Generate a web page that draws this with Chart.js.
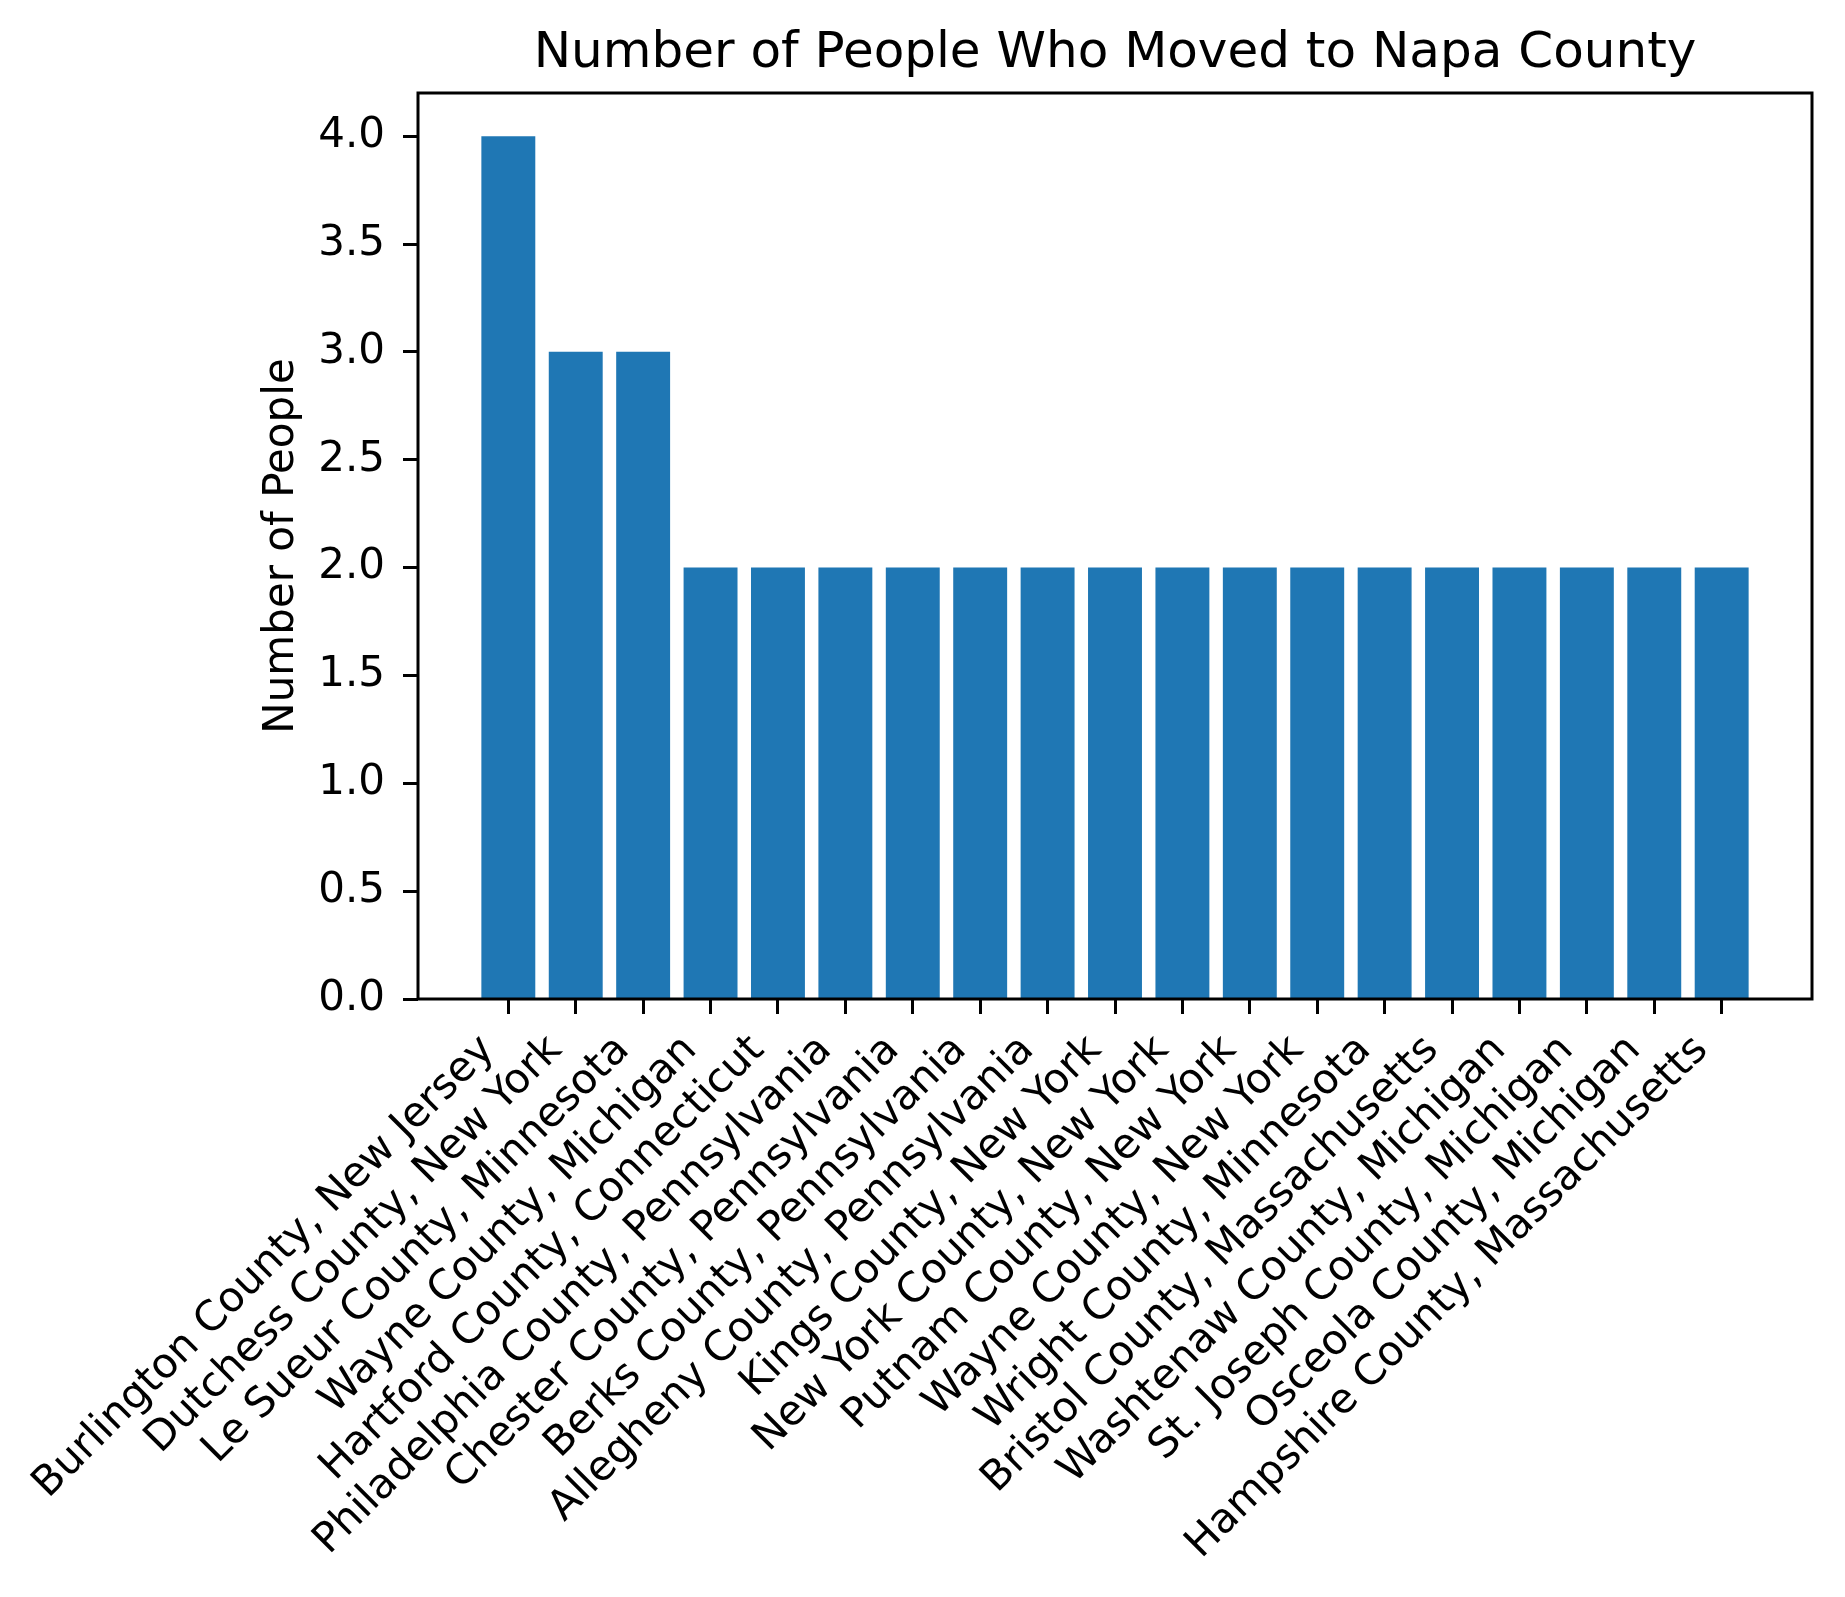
<!DOCTYPE html>
<html>
<head>
<meta charset="utf-8">
<script src="https://cdn.jsdelivr.net/npm/chart.js@4/dist/chart.umd.min.js"></script>
<style>
  html, body { margin: 0; padding: 0; background: #fff; }
  #wrap { width: 1845px; height: 1597px; }
</style>
</head>
<body>
<div id="wrap"><canvas id="c" width="1845" height="1597"></canvas></div>
<script>
const categories = [
  "Burlington County, New Jersey",
  "Dutchess County, New York",
  "Le Sueur County, Minnesota",
  "Wayne County, Michigan",
  "Hartford County, Connecticut",
  "Philadelphia County, Pennsylvania",
  "Chester County, Pennsylvania",
  "Berks County, Pennsylvania",
  "Allegheny County, Pennsylvania",
  "Kings County, New York",
  "New York County, New York",
  "Putnam County, New York",
  "Wayne County, New York",
  "Wright County, Minnesota",
  "Bristol County, Massachusetts",
  "Washtenaw County, Michigan",
  "St. Joseph County, Michigan",
  "Osceola County, Michigan",
  "Hampshire County, Massachusetts"
];
const people = [4, 3, 3, 2, 2, 2, 2, 2, 2, 2, 2, 2, 2, 2, 2, 2, 2, 2, 2];
const yTicks = [0, 0.5, 1.0, 1.5, 2.0, 2.5, 3.0, 3.5, 4.0];

const titleText = "Number of People Who Moved to Napa County";
const yTitle = "Number of People";

const FONT = "'DejaVu Sans', sans-serif";
const n = categories.length;
const barW = 0.8;
const xMin = -barW / 2 - 0.05 * (n - 1 + barW);
const xMax = (n - 1) + barW / 2 + 0.05 * (n - 1 + barW);
const yMax = Math.max(...people) * 1.05;

// Axes frame and a title centred over the plot area (as matplotlib does)
const frame = {
  id: 'frame',
  afterDraw(chart) {
    const a = chart.chartArea, ctx = chart.ctx;
    ctx.save();
    ctx.strokeStyle = '#000';
    ctx.lineWidth = 3;
    ctx.strokeRect(a.left, a.top, a.right - a.left, a.bottom - a.top);
    ctx.fillStyle = '#000';
    ctx.font = "50px " + FONT;
    ctx.textAlign = 'center';
    ctx.textBaseline = 'alphabetic';
    ctx.fillText(titleText, (a.left + a.right) / 2, a.top - 26);
    ctx.restore();
  }
};

new Chart(document.getElementById('c'), {
  type: 'bar',
  data: {
    datasets: [{
      data: people.map((v, i) => ({ x: i, y: v })),
      backgroundColor: '#1f77b4',
      borderWidth: 0,
      barPercentage: barW,
      categoryPercentage: 1.0
    }]
  },
  options: {
    responsive: false,
    devicePixelRatio: 1,
    animation: false,
    layout: { padding: { left: 253, right: 33, top: 93, bottom: 0 } },
    plugins: {
      legend: { display: false },
      tooltip: { enabled: false },
      title: { display: false }
    },
    scales: {
      x: {
        type: 'linear',
        offset: false,
        min: xMin,
        max: xMax,
        afterBuildTicks(axis) { axis.ticks = categories.map((c, i) => ({ value: i })); },
        afterFit(axis) { axis.height = 598; },
        ticks: {
          autoSkip: false,
          minRotation: 45,
          maxRotation: 45,
          color: '#000',
          padding: 12,
          labelOffset: -20,
          font: { family: FONT, size: 41.5 },
          callback: (v) => categories[v]
        },
        grid: { offset: false, drawOnChartArea: false, drawTicks: true, tickLength: 15, tickWidth: 3, tickColor: '#000' },
        border: { display: false }
      },
      y: {
        min: 0,
        max: yMax,
        afterBuildTicks(axis) { axis.ticks = yTicks.map(v => ({ value: v })); },
        afterFit(axis) { axis.width = 165; },
        ticks: {
          color: '#000',
          padding: 18,
          font: { family: FONT, size: 42 },
          callback: (v) => Number(v).toFixed(1)
        },
        grid: { drawOnChartArea: false, drawTicks: true, tickLength: 15, tickWidth: 3, tickColor: '#000' },
        border: { display: false },
        title: {
          display: true,
          text: yTitle,
          color: '#000',
          font: { family: FONT, size: 42, lineHeight: 1.2 },
          padding: { top: 4, bottom: 4 }
        }
      }
    }
  },
  plugins: [frame]
});
</script>
</body>
</html>
